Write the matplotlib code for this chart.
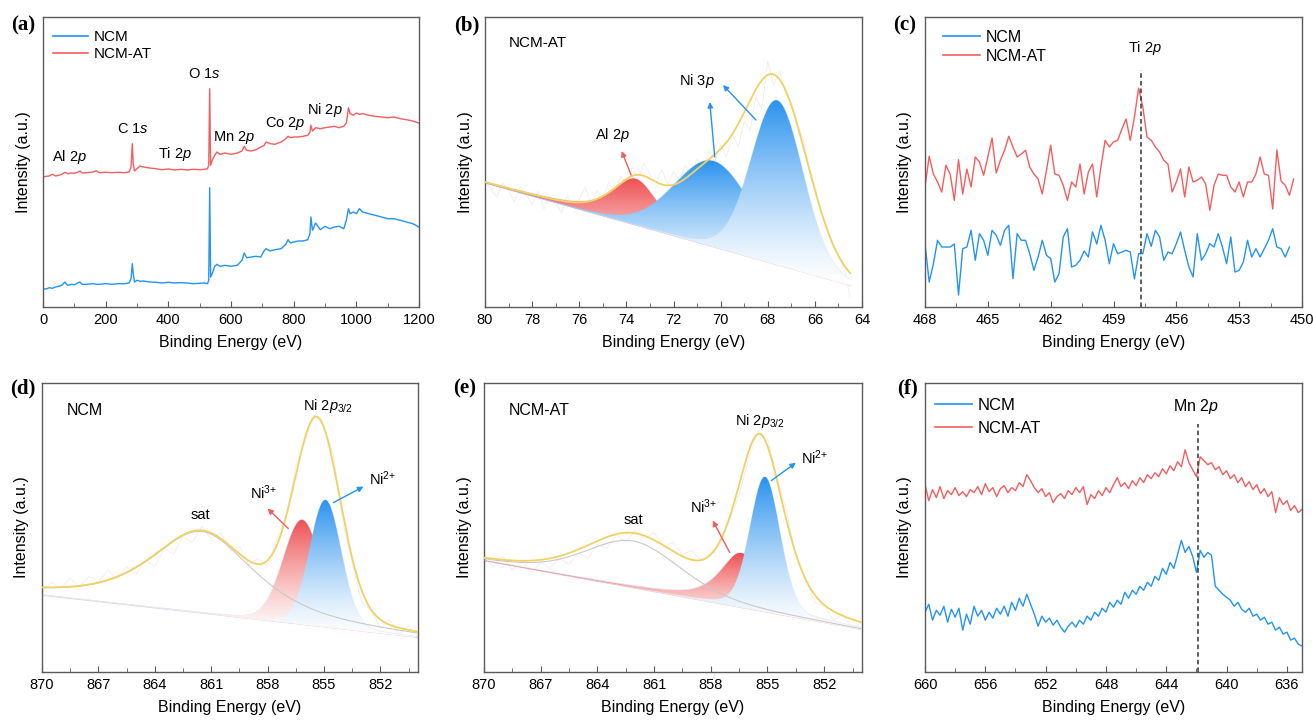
import numpy as np
import matplotlib
matplotlib.use("Agg")
import matplotlib.pyplot as plt
from matplotlib.patches import Polygon
from matplotlib.colors import to_rgb
from matplotlib.lines import Line2D
from matplotlib.ticker import MultipleLocator

plt.rcParams['font.family'] = ['Liberation Sans', 'DejaVu Sans']
plt.rcParams['mathtext.fontset'] = 'custom'
plt.rcParams['mathtext.rm'] = 'Liberation Sans'
plt.rcParams['mathtext.it'] = 'Liberation Sans:italic'
plt.rcParams['mathtext.bf'] = 'Liberation Sans:bold'

# ---------------- data (intensity in arbitrary units) ----------------
# (a) survey
a_energy = [0, 10, 20, 30, 40, 50, 60, 70, 75, 80,
            90, 100, 110, 118, 125, 140, 160, 170, 180, 200,
            220, 240, 260, 275, 281, 285, 288, 292, 300, 310,
            320, 340, 360, 380, 400, 420, 440, 460, 480, 500,
            515, 525, 529, 532, 535, 540, 548, 555, 565, 580,
            600, 620, 635, 642, 650, 665, 680, 695, 705, 712,
            725, 740, 760, 775, 782, 790, 800, 815, 830, 845,
            852, 855, 860, 870, 885, 900, 915, 930, 945, 960,
            968, 975, 980, 990, 1000, 1010, 1020, 1040, 1060, 1080,
            1100, 1120, 1140, 1160, 1180, 1200]
a_ncm_at = [130.0, 130.7, 131.0, 132.7, 131.0, 131.7, 132.7, 134.7, 134.0, 133.3,
            134.0, 133.7, 134.7, 136.0, 134.0, 134.3, 135.0, 136.3, 134.3, 134.7,
            134.3, 134.7, 134.3, 135.0, 140.0, 163.3, 143.3, 136.0, 138.3, 141.0,
            140.0, 139.0, 138.3, 137.3, 138.0, 137.0, 137.7, 137.0, 137.7, 137.3,
            137.7, 138.3, 141.7, 218.3, 141.7, 146.7, 151.7, 155.0, 152.7, 154.0,
            152.7, 154.0, 156.0, 160.7, 156.7, 156.0, 157.3, 160.0, 161.3, 165.0,
            163.3, 162.7, 165.0, 168.3, 170.7, 169.3, 170.0, 170.0, 170.7, 171.7,
            175.0, 181.7, 176.0, 179.3, 178.3, 179.3, 180.0, 180.7, 179.3, 180.7,
            184.0, 199.3, 193.3, 191.7, 194.0, 192.7, 193.3, 191.7, 190.7, 190.0,
            189.3, 190.0, 188.3, 187.3, 186.0, 184.0]
a_ncm = [18.3, 18.0, 19.3, 18.7, 20.0, 20.7, 21.7, 25.0, 22.7, 21.7,
         22.7, 22.3, 24.0, 25.0, 22.7, 22.7, 23.3, 22.7, 22.7, 23.3,
         22.7, 23.3, 23.3, 24.0, 28.3, 43.3, 33.3, 25.0, 26.7, 25.7,
         26.0, 25.0, 24.7, 24.0, 24.7, 24.0, 24.3, 24.0, 23.3, 23.7,
         24.0, 23.3, 26.7, 119.3, 30.0, 33.3, 40.7, 42.7, 40.7, 41.7,
         40.7, 41.7, 46.7, 54.0, 49.3, 50.0, 50.7, 50.0, 56.0, 58.3,
         56.0, 57.3, 58.3, 62.7, 67.3, 64.0, 65.0, 66.0, 66.0, 67.3,
         73.3, 90.0, 76.7, 84.0, 77.3, 80.7, 78.3, 80.0, 80.7, 78.3,
         86.7, 98.3, 93.3, 95.0, 93.3, 98.3, 95.0, 93.3, 91.7, 90.0,
         88.3, 88.3, 86.7, 85.0, 83.3, 80.0]

# (b) Al 2p / Ni 3p fit of NCM-AT
b_range = (80.0, 64.5)
b_base = (124.0, 21.7)
b_peak_center = [73.6, 70.3, 67.6]
b_peak_height = [46.5, 86.0, 164.5]
b_peak_fwhm = [2.4, 3.9, 2.6]
b_peak_eta = [0.8, 0.1, 0.1]
b_env_center = [73.5, 70.6, 67.7]
b_env_height = [48.0, 60.0, 185.0]
b_env_fwhm = [2.6, 2.8, 3.2]
b_env_eta = [0.5, 0.0, 0.0]
b_raw = [126, 118, 110, 124, 116, 105, 120, 112, 102, 116, 98, 110, 104, 94, 112, 100,
         108, 120, 103, 116, 110, 124, 115, 131, 124, 140, 128, 144, 132, 124, 138, 122,
         136, 126, 142, 130, 148, 138, 156, 146, 162, 150, 172, 160, 186, 176, 210, 198,
         246, 222, 236, 214, 204, 182, 168, 140, 122, 96, 82, 60, 52, 38, 10]

# (c) Ti 2p, 0.2 eV steps from 468 eV
c_start, c_step = 468.0, 0.2
c_ncm_at = [120, 150.7, 133, 125, 115, 141.7, 133, 106.7, 147.3, 113,
            138, 120, 150, 145, 131.7, 150, 169, 134, 146.7, 156.7,
            170.7, 160, 150, 153, 156.7, 140, 133, 128, 113, 136.7,
            161.7, 133, 131.7, 121.7, 106.7, 125, 120, 143, 113, 135,
            143, 110, 140, 166.7, 160, 165, 166.7, 178, 188, 166.7,
            190, 219, 200, 170, 166.7, 160, 155, 146.7, 143, 115,
            125, 138, 110, 140, 125, 126.7, 130, 123, 96.7, 121.7,
            133, 131.7, 131.7, 120, 115, 125, 110, 125, 125, 133,
            150, 133, 131.7, 98, 157, 126, 121.7, 111.7, 128]
c_ncm = [63.3, 25, 43.3, 66.7, 60, 60, 60, 63, 12, 58.3,
         60, 76.7, 46.7, 73.3, 66.7, 51.7, 76.7, 71.7, 61.7, 76.7,
         81.7, 28.3, 73.3, 66.7, 66.7, 53.3, 36.7, 50, 66.7, 51.7,
         48.3, 25, 33.3, 70, 78.3, 40, 41.7, 46.7, 56, 50,
         75, 63, 81.7, 66.7, 43.3, 63.3, 53.3, 55, 56.7, 55,
         28, 53.3, 53.3, 73.3, 60.7, 76.7, 70, 46.7, 55, 53.3,
         63.3, 75, 56.7, 40, 30, 73.3, 46.7, 53.3, 63.3, 60,
         73.3, 60, 43.3, 70, 35, 36.7, 45, 66.7, 50, 58.3,
         50, 58.3, 66.7, 78.3, 60, 58.3, 50, 60]
c_ti_energy = 457.7
c_ti_top = 237

# (d) Ni 2p3/2 fit of NCM
d_range = (870.0, 850.0)
d_base = (77.0, 34.7)
d_peak_center = [856.16, 854.92]   # Ni3+, Ni2+
d_peak_height = [105.0, 127.6]
d_peak_fwhm = [2.4, 2.0]
d_peak_eta = [0.1, 0.1]
d_sat = [861.5, 82.0, 6.6, 0.7]
d_env_center = [855.36, 861.5]
d_env_height = [195.0, 82.0]
d_env_fwhm = [2.9, 6.6]
d_env_eta = [0.1, 0.7]
d_raw = [80, 90, 84, 94, 86, 96, 90, 102, 94, 106, 98, 112, 106, 124, 118, 136, 130,
         146, 134, 140, 122, 126, 108, 114, 106, 134, 156, 206, 232, 258, 246, 218, 150,
         110, 70, 62, 44, 52, 38, 46, 36]

# (e) Ni 2p3/2 fit of NCM-AT
e_range = (870.0, 850.0)
e_base = (111.7, 42.5)
e_peak_center = [856.38, 855.13]
e_peak_height = [55.0, 135.7]
e_peak_fwhm = [2.7, 1.9]
e_peak_eta = [0.75, 0.2]
e_sat = [862.1, 47.0, 6.0, 0.3]
e_env_center = [855.4, 862.1]
e_env_height = [174.0, 51.0]
e_env_fwhm = [3.0, 6.0]
e_env_eta = [0.5, 0.3]
e_raw = [114, 106, 116, 102, 112, 100, 110, 104, 114, 108, 120, 114, 128, 124, 138, 130,
         142, 134, 140, 126, 130, 118, 122, 112, 120, 128, 152, 178, 214, 242, 234, 196,
         162, 116, 94, 70, 66, 52, 58, 44, 50]

# (f) Mn 2p, 0.25 eV steps from 660 eV
f_start, f_step = 660.0, 0.25
f_ncm_at = [188, 172, 183, 175, 186, 174, 182, 178, 185, 177,
            181, 176, 183, 180, 186, 178, 189, 181, 185, 176,
            184, 187, 180, 185, 182, 190, 186, 198, 192, 185,
            180, 184, 176, 180, 170, 176, 179, 174, 182, 178,
            185, 180, 186, 168, 178, 174, 182, 177, 185, 180,
            188, 195, 186, 190, 184, 192, 187, 195, 190, 198,
            194, 200, 196, 204, 199, 207, 202, 211, 206, 223,
            210, 203, 196, 216, 212, 208, 210, 203, 206, 198,
            202, 194, 198, 190, 195, 186, 191, 183, 188, 179,
            184, 176, 181, 160, 175, 168, 172, 162, 167, 160, 163]
f_ncm = [60, 68, 52, 62, 57, 66, 50, 63, 55, 64,
         42, 58, 48, 66, 56, 62, 52, 60, 54, 64,
         58, 66, 56, 70, 62, 74, 66, 78, 68, 58,
         46, 56, 50, 54, 47, 52, 45, 40, 46, 50,
         45, 52, 48, 56, 52, 60, 56, 64, 60, 70,
         65, 72, 68, 80, 74, 82, 78, 86, 82, 90,
         86, 96, 92, 104, 98, 110, 104, 118, 132, 120,
         126, 116, 100, 122, 115, 120, 117, 86, 82, 78,
         75, 72, 66, 70, 63, 60, 64, 56, 58, 52,
         55, 48, 50, 42, 45, 38, 40, 32, 34, 28, 26]
f_mn_energy = 641.9
f_mn_top = 249

# ---------------- style ----------------
BLUE = '#2393f4'
RED = '#f45d5f'
YELLOW = '#f1d160'
FILL_RED = '#ee5052'
FILL_BLUE = '#2a92ee'
SPINE = '#5a5a5a'


def pv(e, c, h, w, eta):
    x = (e - c) / (w / 2.0)
    return h * ((1 - eta) * np.exp(-np.log(2) * x ** 2) + eta / (1 + x ** 2))


def line_base(e, rng, base):
    return base[0] + (base[1] - base[0]) * (e - rng[0]) / (rng[1] - rng[0])


def grad_fill(ax, x, y_low, y_high, color, z, power=1.3):
    verts = np.column_stack([np.r_[x, x[::-1]], np.r_[y_high, y_low[::-1]]])
    poly = Polygon(verts, closed=True, facecolor='none', edgecolor='none')
    ax.add_patch(poly)
    y_top, y_bot = y_high.max(), y_low.min()
    t = np.linspace(0, 1, 256) ** power
    c = np.array(to_rgb(color))
    img = 1 + (c - 1)[None, None, :] * t[:, None, None]
    im = ax.imshow(img, extent=(x.min(), x.max(), y_bot, y_top), origin='lower',
                   aspect='auto', zorder=z, interpolation='bilinear')
    im.set_clip_path(poly)


def style(ax, xlim, major, minor):
    ax.set_xlim(*xlim)
    ax.set_ylim(0, 290)
    ax.xaxis.set_major_locator(MultipleLocator(major))
    ax.xaxis.set_minor_locator(MultipleLocator(minor))
    ax.tick_params(axis='x', which='both', direction='in', labelsize=10.5,
                   color=SPINE, pad=4, top=False)
    ax.tick_params(axis='x', which='major', length=4)
    ax.tick_params(axis='x', which='minor', length=3)
    ax.set_yticks([])
    for s in ax.spines.values():
        s.set_color(SPINE)
        s.set_linewidth(1.0)
    ax.set_xlabel('Binding Energy (eV)', fontsize=11.5, labelpad=6)
    ax.set_ylabel('Intensity (a.u.)', fontsize=11.5, labelpad=9)


def fitted(ax, rng, base, pc, ph, pw, pe, colors, ec, eh, ew, ee, raw, sat=None):
    e = np.linspace(rng[0], rng[1], 600)
    L = line_base(e, rng, base)
    ax.plot(np.linspace(rng[0], rng[1], len(raw)), raw, color='#ededed', lw=0.6, zorder=1)
    ax.plot(e, L, color='#f3c9cb', lw=0.7, zorder=2)
    for i in range(len(pc)):
        comp = pv(e, pc[i], ph[i], pw[i], pe[i])
        grad_fill(ax, e, L, L + comp, colors[i], z=3 + i)
        ax.plot(e, L + comp + 0.4, color='#dfe9f5', lw=0.5, zorder=2)
    if sat is not None:
        ax.plot(e, L + pv(e, *sat), color='#c9c9c9', lw=0.8, zorder=7)
    env = L.copy()
    for i in range(len(ec)):
        env += pv(e, ec[i], eh[i], ew[i], ee[i])
    ax.plot(e, env, color=YELLOW, lw=1.3, zorder=8)


def arrow(ax, tail, head, color):
    ax.annotate('', xy=head, xytext=tail,
                arrowprops=dict(arrowstyle='-|>', color=color, lw=1.0,
                                mutation_scale=8, shrinkA=0, shrinkB=0), zorder=9)


fig = plt.figure(figsize=(13.13, 7.2), dpi=100)
W, H = 1313.0, 720.0


def add_ax(left, top, width, height):
    return fig.add_axes([left / W, 1 - (top + height) / H, width / W, height / H])


ax_a = add_ax(43, 17, 376, 290)
ax_b = add_ax(485, 17, 377, 290)
ax_c = add_ax(925, 17, 377, 290)
ax_d = add_ax(42, 383, 376, 289)
ax_e = add_ax(484, 383, 378, 289)
ax_f = add_ax(925, 383, 377, 289)

txt = dict(fontsize=10.5, ha='center', va='center')
NI3 = 'Ni$^{3{+}}$'
NI2 = 'Ni$^{2{+}}$'

# (a)
ax_a.plot(a_energy, a_ncm, color=BLUE, lw=1.0)
ax_a.plot(a_energy, a_ncm_at, color=RED, lw=1.0)
style(ax_a, (0, 1200), 200, 100)
for label, x, y in [('Al $\\mathit{2p}$', 83, 150), ('C $\\mathit{1s}$', 288, 178),
                    ('Ti $\\mathit{2p}$', 421, 153), ('O $\\mathit{1s}$', 515, 233),
                    ('Mn $\\mathit{2p}$', 610, 170), ('Co $\\mathit{2p}$', 772, 184),
                    ('Ni $\\mathit{2p}$', 900, 197)]:
    ax_a.text(x, y, label, **txt)
handles = [Line2D([], [], color=BLUE, lw=1.2), Line2D([], [], color=RED, lw=1.2)]
ax_a.legend(handles, ['NCM', 'NCM-AT'], loc='upper left', bbox_to_anchor=(0.027, 0.955),
            frameon=False, fontsize=11, handlelength=2.3, handletextpad=0.35,
            labelspacing=0.2, borderaxespad=0, borderpad=0)

# (b)
fitted(ax_b, b_range, b_base, b_peak_center, b_peak_height, b_peak_fwhm, b_peak_eta,
       [FILL_RED, FILL_BLUE, FILL_BLUE], b_env_center, b_env_height, b_env_fwhm, b_env_eta,
       b_raw)
style(ax_b, (80, 64), 2, 1)
ax_b.text(79.0, 264, 'NCM-AT', fontsize=11, ha='left', va='center')
ax_b.text(71.0, 226, 'Ni $\\mathit{3p}$', **txt)
ax_b.text(74.6, 172, 'Al $\\mathit{2p}$', **txt)
arrow(ax_b, (73.8, 132), (74.2, 156), RED)
arrow(ax_b, (70.25, 150), (70.46, 205), BLUE)
arrow(ax_b, (68.5, 187), (69.9, 222), BLUE)

# (c)
ax_c.plot(c_start - c_step * np.arange(len(c_ncm)), c_ncm, color=BLUE, lw=1.0)
ax_c.plot(c_start - c_step * np.arange(len(c_ncm_at)), c_ncm_at, color=RED, lw=1.0)
ax_c.plot([c_ti_energy, c_ti_energy], [0, c_ti_top], color='#333333', lw=1.1, ls=(0, (3, 2)))
style(ax_c, (468, 450), 3, 1.5)
ax_c.text(457.5, 259, 'Ti $\\mathit{2p}$', **txt)
ax_c.legend(handles, ['NCM', 'NCM-AT'], loc='upper left', bbox_to_anchor=(0.048, 0.955),
            frameon=False, fontsize=11.5, handlelength=2.3, handletextpad=0.35,
            labelspacing=0.25, borderaxespad=0, borderpad=0)

# (d)
fitted(ax_d, d_range, d_base, d_peak_center, d_peak_height, d_peak_fwhm, d_peak_eta,
       [FILL_RED, FILL_BLUE], d_env_center, d_env_height, d_env_fwhm, d_env_eta,
       d_raw, sat=d_sat)
style(ax_d, (870, 850), 3, 1.5)
ax_d.text(868.7, 262, 'NCM', fontsize=11.5, ha='left', va='center')
ax_d.text(854.8, 267, 'Ni $\\mathit{2p}_{\\mathit{3/2}}$', **txt)
ax_d.text(858.2, 180, NI3, **txt)
ax_d.text(851.9, 194, NI2, **txt)
ax_d.text(861.6, 158, 'sat', **txt)
arrow(ax_d, (856.9, 144), (858.0, 164), RED)
arrow(ax_d, (854.5, 170), (852.9, 186), BLUE)

# (e)
fitted(ax_e, e_range, e_base, e_peak_center, e_peak_height, e_peak_fwhm, e_peak_eta,
       [FILL_RED, FILL_BLUE], e_env_center, e_env_height, e_env_fwhm, e_env_eta,
       e_raw, sat=e_sat)
style(ax_e, (870, 850), 3, 1.5)
ax_e.text(868.7, 262, 'NCM-AT', fontsize=11.5, ha='left', va='center')
ax_e.text(855.4, 252, 'Ni $\\mathit{2p}_{\\mathit{3/2}}$', **txt)
ax_e.text(858.4, 166, NI3, **txt)
ax_e.text(852.5, 215, NI2, **txt)
ax_e.text(862.1, 153, 'sat', **txt)
arrow(ax_e, (857.0, 120), (857.9, 152), RED)
arrow(ax_e, (854.8, 192), (853.5, 210), BLUE)

# (f)
ax_f.plot(f_start - f_step * np.arange(len(f_ncm)), f_ncm, color=BLUE, lw=1.0)
ax_f.plot(f_start - f_step * np.arange(len(f_ncm_at)), f_ncm_at, color=RED, lw=1.0)
ax_f.plot([f_mn_energy, f_mn_energy], [0, f_mn_top], color='#333333', lw=1.1, ls=(0, (3, 2)))
style(ax_f, (660, 635), 4, 2)
ax_f.text(642.0, 266, 'Mn $\\mathit{2p}$', fontsize=11.5, ha='center', va='center')
ax_f.legend(handles, ['NCM', 'NCM-AT'], loc='upper left', bbox_to_anchor=(0.027, 0.947),
            frameon=False, fontsize=12, handlelength=2.2, handletextpad=0.35,
            labelspacing=0.45, borderaxespad=0, borderpad=0)

for lab, x, y in [('(a)', 23, 25), ('(b)', 467, 25), ('(c)', 905, 25),
                  ('(d)', 23, 388), ('(e)', 465, 388), ('(f)', 907, 388)]:
    fig.text(x / W, 1 - y / H, lab, fontsize=15, fontweight='bold',
             family='Liberation Serif', ha='center', va='center')

fig.savefig('out.png', dpi=100)
